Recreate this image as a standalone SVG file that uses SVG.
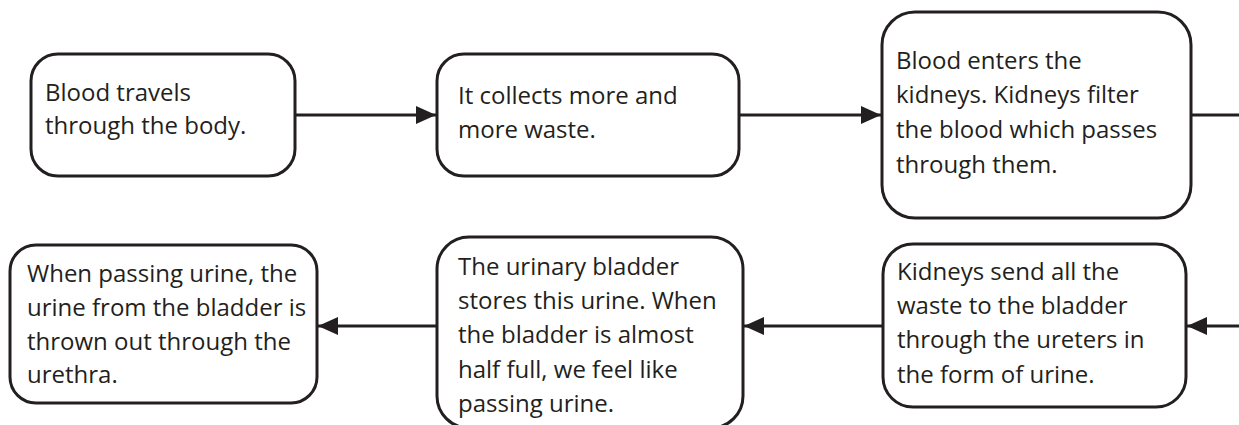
<svg xmlns="http://www.w3.org/2000/svg" width="1239" height="425" viewBox="0 0 1239 425">
  <style>
    .box { fill: #ffffff; stroke: #231f20; stroke-width: 3; }
    .lbl { font-family: "Open Sans", "Liberation Sans", sans-serif; font-size: 24px; fill: #231f20; }
    .conn { stroke: #231f20; stroke-width: 3; fill: none; }
  </style>
  <defs>
    <marker id="arrow" markerUnits="userSpaceOnUse" markerWidth="22" markerHeight="20" refX="20" refY="9" orient="auto">
      <path d="M0,0 L20,9 L0,18 z" fill="#231f20"/>
    </marker>
  </defs>
  <rect width="1239" height="425" fill="#ffffff"/>

  <g id="connectors">
    <line class="conn" x1="295" y1="115" x2="436" y2="115" marker-end="url(#arrow)"/>
    <line class="conn" x1="739" y1="115" x2="881" y2="115" marker-end="url(#arrow)"/>
    <line class="conn" x1="1191" y1="115" x2="1239" y2="115"/>
    <line class="conn" x1="1239" y1="326" x2="1187" y2="326" marker-end="url(#arrow)"/>
    <line class="conn" x1="883" y1="326" x2="744" y2="326" marker-end="url(#arrow)"/>
    <line class="conn" x1="437" y1="326" x2="318" y2="326" marker-end="url(#arrow)"/>
  </g>

  <g id="node-blood-travels">
    <rect class="box" x="31" y="54" width="264" height="122" rx="27" ry="27"/>
    <text class="lbl" x="45" y="101">Blood travels</text>
    <text class="lbl" x="45" y="134">through the body.</text>
  </g>

  <g id="node-collects-waste">
    <rect class="box" x="437" y="54" width="302" height="122" rx="27" ry="27"/>
    <text class="lbl" x="458" y="104">It collects more and</text>
    <text class="lbl" x="458" y="138">more waste.</text>
  </g>

  <g id="node-kidneys-filter">
    <rect class="box" x="882" y="12" width="309" height="206" rx="33" ry="33"/>
    <text class="lbl" x="896" y="69">Blood enters the</text>
    <text class="lbl" x="896" y="103">kidneys. Kidneys filter</text>
    <text class="lbl" x="896" y="138">the blood which passes</text>
    <text class="lbl" x="896" y="173">through them.</text>
  </g>

  <g id="node-kidneys-send">
    <rect class="box" x="883" y="244" width="303" height="163" rx="30" ry="30"/>
    <text class="lbl" x="897" y="280">Kidneys send all the</text>
    <text class="lbl" x="897" y="314">waste to the bladder</text>
    <text class="lbl" x="897" y="348">through the ureters in</text>
    <text class="lbl" x="897" y="383">the form of urine.</text>
  </g>

  <g id="node-bladder-stores">
    <rect class="box" x="437" y="237" width="306" height="191" rx="32" ry="32"/>
    <text class="lbl" x="458" y="275">The urinary bladder</text>
    <text class="lbl" x="458" y="309">stores this urine. When</text>
    <text class="lbl" x="458" y="343">the bladder is almost</text>
    <text class="lbl" x="458" y="378">half full, we feel like</text>
    <text class="lbl" x="458" y="412">passing urine.</text>
  </g>

  <g id="node-urethra">
    <rect class="box" x="10" y="245" width="307" height="158" rx="26" ry="26"/>
    <text class="lbl" x="27" y="282">When passing urine, the</text>
    <text class="lbl" x="27" y="316">urine from the bladder is</text>
    <text class="lbl" x="27" y="350">thrown out through the</text>
    <text class="lbl" x="27" y="383">urethra.</text>
  </g>
</svg>
